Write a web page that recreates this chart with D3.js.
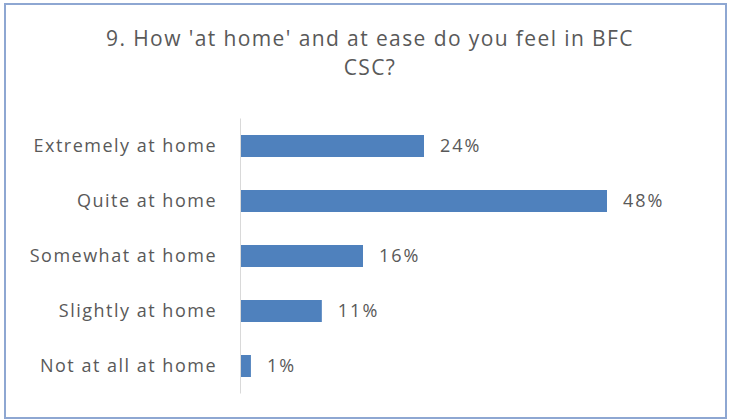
<!DOCTYPE html>
<html>
<head>
<meta charset="utf-8">
<script src="https://cdn.jsdelivr.net/npm/d3@7"></script>
<style>
  body { margin: 0; background: #fff; }
  svg text { font-family: "Open Sans", "DejaVu Sans", sans-serif; fill: #595959; }
</style>
</head>
<body>
<svg id="chart" width="731" height="420"></svg>
<script>
// answers, top to bottom
const categories = ["Extremely at home", "Quite at home", "Somewhat at home", "Slightly at home", "Not at all at home"];
// share of respondents (labels show rounded values)
const shares = [0.24, 0.48, 0.16, 0.106, 0.013];
const titleLines = ["9. How 'at home' and at ease do you feel in BFC", "CSC?"];

const svg = d3.select("#chart");
const width = 731, height = 420;

// outer frame
svg.append("rect")
  .attr("x", 5).attr("y", 4)
  .attr("width", width - 10).attr("height", height - 6)
  .attr("fill", "#fff")
  .attr("stroke", "#8ea7d2")
  .attr("stroke-width", 2);

// title
svg.append("g")
  .selectAll("text")
  .data(titleLines)
  .join("text")
  .attr("x", 370)
  .attr("y", (d, i) => 46 + i * 29)
  .attr("text-anchor", "middle")
  .attr("font-size", 21)
  .attr("letter-spacing", 1.4)
  .text(d => d);

const x = d3.scaleLinear().domain([0, 0.48]).range([241, 607]);
const y = d3.scaleBand().domain(categories).range([118.5, 393.5])
  .paddingInner(0.6).paddingOuter(0.3);

// category axis line
svg.append("line")
  .attr("x1", 240.5).attr("x2", 240.5)
  .attr("y1", y.range()[0]).attr("y2", y.range()[1])
  .attr("stroke", "#d9d9d9");

const rows = categories.map((c, i) => ({cat: c, v: shares[i]}));

svg.append("g")
  .selectAll("rect")
  .data(rows)
  .join("rect")
  .attr("x", x(0))
  .attr("y", d => y(d.cat))
  .attr("width", d => x(d.v) - x(0))
  .attr("height", y.bandwidth())
  .attr("fill", "#4f81bd");

// category labels
svg.append("g")
  .selectAll("text")
  .data(rows)
  .join("text")
  .attr("x", 217)
  .attr("y", d => y(d.cat) + y.bandwidth() / 2)
  .attr("dy", "0.35em")
  .attr("text-anchor", "end")
  .attr("font-size", 18)
  .attr("letter-spacing", 1.5)
  .text(d => d.cat);

// value labels
const fmt = d3.format(".0%");
svg.append("g")
  .selectAll("text")
  .data(rows)
  .join("text")
  .attr("x", d => x(d.v) + 16)
  .attr("y", d => y(d.cat) + y.bandwidth() / 2)
  .attr("dy", "0.35em")
  .attr("font-size", 18)
  .attr("letter-spacing", 2)
  .text(d => fmt(d.v));
</script>
</body>
</html>
